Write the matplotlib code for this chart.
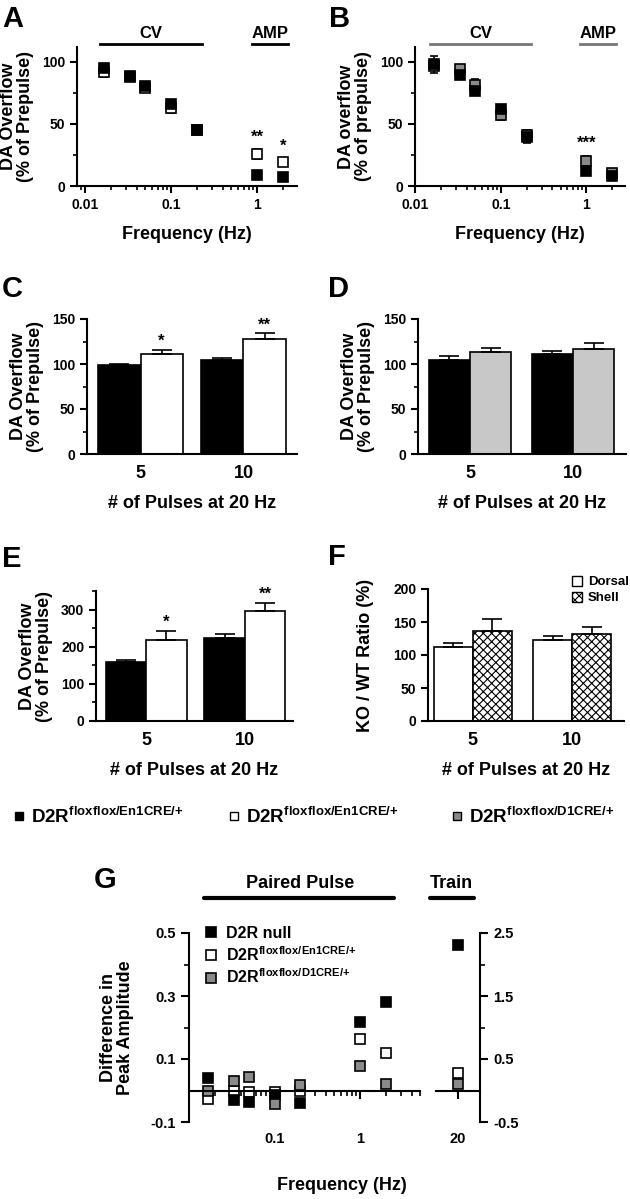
import numpy as np
import matplotlib
matplotlib.use('Agg')
import matplotlib.pyplot as plt
from matplotlib.lines import Line2D
from matplotlib.patches import Patch
from matplotlib.ticker import FixedLocator, MultipleLocator, LogLocator, NullFormatter

plt.rcParams['font.family'] = ['Liberation Sans', 'DejaVu Sans']
plt.rcParams['font.weight'] = 'bold'
plt.rcParams['axes.labelweight'] = 'bold'
plt.rcParams['axes.unicode_minus'] = False
plt.rcParams['mathtext.fontset'] = 'custom'
plt.rcParams['mathtext.rm'] = 'Liberation Sans:bold'
plt.rcParams['mathtext.default'] = 'rm'
plt.rcParams['axes.linewidth'] = 1.5
plt.rcParams['hatch.linewidth'] = 0.8

# ---- data ----
freq = [1 / 60, 1 / 30, 0.05, 0.1, 0.2, 1, 2]

a_black = [95, 88.7, 80.3, 66, 45.3, 9.2, 7.5]
a_black_err = [3, 2, 2, 2, 1.5, 1, 1]
a_white = [92, 88, 79, 62.8, 45, 25.6, 19.1]
a_white_err = [4, 2, 2, 4, 1, 4, 3]

b_black = [97.9, 89.8, 76.7, 61.7, 39.7, 12.3, 8.3]
b_black_err = [7, 2, 3, 3, 5, 3, 2]
b_gray = [97, 94, 81, 57, 41, 20, 10.7]
b_gray_err = [3, 3, 5, 4, 4, 4, 2]

pulses = ['5', '10']
c_black = [98.5, 104]
c_black_err = [1, 3]
c_white = [111, 128]
c_white_err = [5, 6]

d_black = [104, 110.6]
d_black_err = [4.4, 4]
d_gray = [113, 116.4]
d_gray_err = [4.4, 7]

e_black = [159, 224]
e_black_err = [6, 11]
e_white = [219, 297]
e_white_err = [24, 22]

f_dorsal = [112, 123]
f_dorsal_err = [6, 6]
f_shell = [136, 132]
f_shell_err = [18, 11]

g_freq = [1 / 60, 1 / 30, 0.05, 0.1, 0.2, 1, 2]
g_null = [0.039, -0.029, -0.036, -0.015, -0.041, 0.216, 0.282]
g_en1 = [-0.026, -0.002, -0.005, -0.005, -0.003, 0.163, 0.119]
g_d1 = [0.0, 0.031, 0.043, -0.043, 0.019, 0.079, 0.021]
train_freq = [20]
train_null = [2.31]
train_en1 = [0.28]
train_d1 = [0.105]

lbl_en1 = r'D2R$^{floxflox/En1CRE/{+}}$'
lbl_d1 = r'D2R$^{floxflox/D1CRE/{+}}$'

GRAY = '#8a8a8a'
LGRAY = '#c8c8c8'

W, H = 630, 1199
fig = plt.figure(figsize=(W / 100, H / 100), dpi=100)


def box(l, t, r, b):
    return [l / W, 1 - b / H, (r - l) / W, (b - t) / H]


def style(ax):
    ax.spines['top'].set_visible(False)
    ax.spines['right'].set_visible(False)
    ax.tick_params(which='major', length=5, width=1.5, labelsize=10)
    ax.tick_params(which='minor', length=3, width=1.2)


def freq_panel(ax, ser, ylabel):
    for vals, errs, face in ser:
        ax.errorbar(freq, vals, yerr=errs, fmt='s', ms=7, mfc=face, mec='k',
                    mew=1.2, ecolor='k', elinewidth=1.2, capsize=3, capthick=1.2)
    ax.set_xscale('log')
    ax.set_ylim(0, 112)
    ax.xaxis.set_major_locator(FixedLocator([0.01, 0.1, 1]))
    ax.set_xticklabels(['0.01', '0.1', '1'])
    ax.xaxis.set_minor_locator(LogLocator(base=10, subs=np.arange(2, 10)))
    ax.xaxis.set_minor_formatter(NullFormatter())
    ax.yaxis.set_major_locator(MultipleLocator(50))
    ax.yaxis.set_minor_locator(MultipleLocator(25))
    style(ax)
    ax.set_ylabel(ylabel, fontsize=13, labelpad=6, linespacing=1.0)
    ax.set_xlabel('Frequency (Hz)', fontsize=13, labelpad=10)


def bar_panel(ax, left, right, w, ylabel, ypad=6):
    x = np.arange(len(pulses))
    for vals, errs, face, hatch, off in [left + (-w / 2,), right + (w / 2,)]:
        ax.bar(x + off, vals, w, color=face, edgecolor='k', lw=1.2, hatch=hatch)
        ax.errorbar(x + off, vals, yerr=[np.zeros(len(vals)), errs], fmt='none',
                    ecolor='k', elinewidth=1.2, capsize=7, capthick=1.2)
    ax.set_xticks(x)
    ax.set_xticklabels(pulses)
    style(ax)
    ax.tick_params(axis='x', length=0, pad=8, labelsize=13)
    ax.set_ylabel(ylabel, fontsize=13, labelpad=ypad, linespacing=1.0)
    ax.set_xlabel('# of Pulses at 20 Hz', fontsize=13, labelpad=9)
    return x


def bracket(ax, x0, x1, text, color):
    tr = ax.get_xaxis_transform()
    ax.plot([x0, x1], [1.022, 1.022], color=color, lw=2, transform=tr, clip_on=False)
    ax.text(np.sqrt(x0 * x1), 1.10, text, transform=tr, ha='center', va='center',
            fontsize=12, color='k')


# ---- A ----
ax_a = fig.add_axes(box(77, 47, 297, 186))
freq_panel(ax_a, [(a_white, a_white_err, 'w'), (a_black, a_black_err, 'k')],
           'DA Overflow\n(% of Prepulse)')
ax_a.set_xlim(0.0081, 2.9)
bracket(ax_a, 0.0149, 0.229, 'CV', 'k')
bracket(ax_a, 0.87, 2.3, 'AMP', 'k')
ax_a.text(freq[5], a_white[5] + a_white_err[5] + 4, '**', ha='center', va='bottom', fontsize=12)
ax_a.text(freq[6], a_white[6] + a_white_err[6] + 4, '*', ha='center', va='bottom', fontsize=12)

# ---- B ----
ax_b = fig.add_axes(box(415, 47, 625, 186))
freq_panel(ax_b, [(b_gray, b_gray_err, GRAY), (b_black, b_black_err, 'k')],
           'DA overflow\n(% of prepulse)')
ax_b.set_xlim(0.0099, 2.84)
bracket(ax_b, 0.0149, 0.223, 'CV', '#777777')
bracket(ax_b, 0.85, 2.2, 'AMP', '#777777')
ax_b.text(freq[5], b_gray[5] + b_gray_err[5] + 4, '***', ha='center', va='bottom', fontsize=12)

# ---- C ----
ax_c = fig.add_axes(box(87, 319, 297, 454))
x = bar_panel(ax_c, (c_black, c_black_err, 'k', None), (c_white, c_white_err, 'w', None),
              0.41, 'DA Overflow\n(% of Prepulse)')
ax_c.set_xlim(-0.52, 1.52)
ax_c.set_ylim(0, 150)
ax_c.yaxis.set_major_locator(MultipleLocator(50))
ax_c.yaxis.set_minor_locator(MultipleLocator(25))
for i, s in enumerate(['*', '**']):
    ax_c.text(x[i] + 0.205, c_white[i] + c_white_err[i] + 1, s, ha='center', va='bottom', fontsize=12)

# ---- D ----
ax_d = fig.add_axes(box(418, 319, 626, 454))
bar_panel(ax_d, (d_black, d_black_err, 'k', None), (d_gray, d_gray_err, LGRAY, None),
          0.4, 'DA Overflow\n(% of Prepulse)')
ax_d.set_xlim(-0.505, 1.515)
ax_d.set_ylim(0, 150)
ax_d.yaxis.set_major_locator(MultipleLocator(50))
ax_d.yaxis.set_minor_locator(MultipleLocator(25))

# ---- E ----
ax_e = fig.add_axes(box(96, 591, 293, 721))
x = bar_panel(ax_e, (e_black, e_black_err, 'k', None), (e_white, e_white_err, 'w', None),
              0.41, 'DA Overflow\n(% of Prepulse)')
ax_e.set_xlim(-0.51, 1.49)
ax_e.set_ylim(0, 350)
ax_e.yaxis.set_major_locator(MultipleLocator(100))
ax_e.yaxis.set_minor_locator(MultipleLocator(50))
for i, s in enumerate(['*', '**']):
    ax_e.text(x[i] + 0.205, e_white[i] + e_white_err[i] + 3, s, ha='center', va='bottom', fontsize=12)

# ---- F ----
ax_f = fig.add_axes(box(428, 589, 624, 721))
bar_panel(ax_f, (f_dorsal, f_dorsal_err, 'w', None), (f_shell, f_shell_err, 'w', 'xxxx'),
          0.39, 'KO / WT Ratio (%)', ypad=14)
ax_f.set_xlim(-0.45, 1.52)
ax_f.set_ylim(0, 200)
ax_f.yaxis.set_major_locator(MultipleLocator(50))
ax_f.legend(handles=[Patch(facecolor='w', edgecolor='k', label='Dorsal'),
                     Patch(facecolor='w', edgecolor='k', hatch='xxxx', label='Shell')],
            loc='upper left', bbox_to_anchor=(0.70, 1.15), frameon=False, borderpad=0,
            handlelength=0.8, handleheight=0.8, handletextpad=0.4, labelspacing=0.25,
            prop={'size': 9.5, 'weight': 'bold'})

# ---- legend row ----
for xpix, face, lbl in [(4, 'k', lbl_en1), (219, 'w', lbl_en1), (442, GRAY, lbl_d1)]:
    h = Line2D([], [], marker='s', ls='none', ms=6, mfc=face, mec='k', mew=1)
    fig.legend(handles=[h], labels=[lbl], loc='center left',
               bbox_to_anchor=(xpix / W, 1 - 817 / H), frameon=False, borderpad=0,
               handlelength=0.6, handletextpad=0.35, prop={'size': 13.5, 'weight': 'bold'})

# ---- G ----
ax_g1 = fig.add_axes(box(189, 933, 420, 1122))
ax_g2 = fig.add_axes(box(436, 933, 480, 1122))
for vals, face, lbl in [(g_en1, 'w', lbl_en1), (g_null, 'k', 'D2R null'), (g_d1, GRAY, lbl_d1)]:
    ax_g1.plot(g_freq, vals, 's', ms=7.5, mfc=face, mec='k', mew=1.2, label=lbl, clip_on=False)
for vals, face in [(train_en1, 'w'), (train_null, 'k'), (train_d1, GRAY)]:
    ax_g2.plot(train_freq, vals, 's', ms=7.5, mfc=face, mec='k', mew=1.2, clip_on=False)

ax_g1.set_xscale('log')
ax_g1.set_xlim(0.01, 5)
ax_g1.set_ylim(-0.1, 0.5)
ax_g1.spines['top'].set_visible(False)
ax_g1.spines['right'].set_visible(False)
ax_g1.spines['bottom'].set_position(('data', 0))
ax_g1.xaxis.set_major_locator(FixedLocator([0.1, 1]))
ax_g1.set_xticklabels(['0.1', '1'])
ax_g1.xaxis.set_minor_locator(LogLocator(base=10, subs=np.arange(2, 10)))
ax_g1.xaxis.set_minor_formatter(NullFormatter())
ax_g1.yaxis.set_major_locator(FixedLocator([-0.1, 0.1, 0.3, 0.5]))
ax_g1.set_yticklabels(['-0.1', '0.1', '0.3', '0.5'])
ax_g1.yaxis.set_minor_locator(FixedLocator([0.2, 0.4]))
ax_g1.tick_params(which='major', length=6, width=1.5, labelsize=10.5)
ax_g1.tick_params(which='minor', length=3.5, width=1.2)
ax_g1.tick_params(axis='x', which='major', pad=24)
ax_g1.set_ylabel('Difference in\nPeak Amplitude', fontsize=13, labelpad=12, linespacing=1.0)

ax_g2.set_xlim(15, 25)
ax_g2.set_ylim(-0.5, 2.5)
ax_g2.spines['top'].set_visible(False)
ax_g2.spines['left'].set_visible(False)
ax_g2.spines['bottom'].set_position(('data', 0))
ax_g2.yaxis.tick_right()
ax_g2.set_xticks(train_freq)
ax_g2.set_xticklabels(['20'])
ax_g2.yaxis.set_major_locator(FixedLocator([-0.5, 0.5, 1.5, 2.5]))
ax_g2.yaxis.set_minor_locator(FixedLocator([1, 2]))
ax_g2.tick_params(which='major', length=6, width=1.5, labelsize=10.5)
ax_g2.tick_params(which='minor', length=3.5, width=1.2)
ax_g2.tick_params(axis='x', which='major', pad=24)

h, l = ax_g1.get_legend_handles_labels()
order = [1, 0, 2]
ax_g1.legend([h[i] for i in order], [l[i] for i in order], loc='upper left',
             bbox_to_anchor=(0.035, 1.08), frameon=False, borderpad=0, handlelength=0.8,
             handletextpad=0.5, labelspacing=0.25, prop={'size': 11.5, 'weight': 'bold'})

fig.text(342 / W, 1 - 1185 / H, 'Frequency (Hz)', ha='center', va='center', fontsize=13)

# paired pulse / train brackets
fig.add_artist(Line2D([204 / W, 394 / W], [1 - 898 / H] * 2, lw=3, color='k', solid_capstyle='round'))
fig.add_artist(Line2D([430 / W, 474 / W], [1 - 898 / H] * 2, lw=3, color='k', solid_capstyle='round'))
fig.text(300 / W, 1 - 883 / H, 'Paired Pulse', ha='center', va='center', fontsize=13)
fig.text(451 / W, 1 - 883 / H, 'Train', ha='center', va='center', fontsize=13)

# panel letters
for letter, xp, yp in [('A', 2, 5), ('B', 329, 5), ('C', 2, 275), ('D', 328, 275),
                       ('E', 2, 545), ('F', 328, 543), ('G', 94, 866)]:
    fig.text(xp / W, 1 - yp / H, letter, ha='left', va='top', fontsize=21)

fig.savefig('out.png', dpi=100)
